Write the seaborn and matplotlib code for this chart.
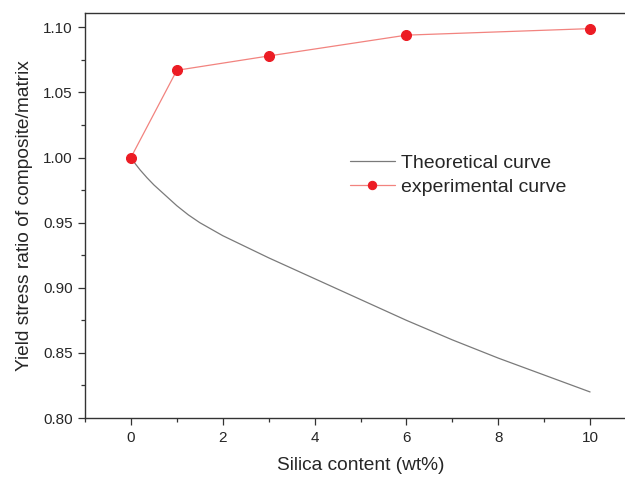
import numpy as np
import pandas as pd
import matplotlib
matplotlib.use("Agg")
import matplotlib.pyplot as plt
from matplotlib.ticker import MultipleLocator
import seaborn as sns

# ---- data ----
theory_x = [0, 0.1, 0.2, 0.35, 0.5, 0.75, 1, 1.25, 1.5, 2, 2.5, 3, 3.5, 4, 5, 6, 7, 8, 9, 10]
theory_y = [1.000, 0.995, 0.9905, 0.9845, 0.979, 0.971, 0.963, 0.956, 0.950, 0.940,
            0.9315, 0.923, 0.915, 0.907, 0.891, 0.875, 0.860, 0.846, 0.833, 0.820]
exp_x = [0, 1, 3, 6, 10]
exp_y = [1.000, 1.067, 1.078, 1.094, 1.099]
x_ticks = [0, 2, 4, 6, 8, 10]
y_ticks = [0.80, 0.85, 0.90, 0.95, 1.00, 1.05, 1.10]

sns.set_style("ticks")
plt.rcParams['font.family'] = ['Liberation Sans', 'DejaVu Sans']
text_color = '#262626'

fig = plt.figure(figsize=(6.25, 4.78), dpi=100)
ax = fig.add_axes([85 / 625, 60 / 478, 551 / 625, 405 / 478])

theory_df = pd.DataFrame({'x': theory_x, 'y': theory_y})
exp_df = pd.DataFrame({'x': exp_x, 'y': exp_y})

sns.lineplot(data=theory_df, x='x', y='y', ax=ax, color='#7a7a7a', linewidth=0.9,
             label='Theoretical curve', zorder=2)
sns.lineplot(data=exp_df, x='x', y='y', ax=ax, color='#f2837f', linewidth=0.9,
             marker='o', markersize=7.2, markerfacecolor='#ec1c24',
             markeredgecolor='#ec1c24', label='experimental curve', zorder=3)

ax.set_xlim(-1, 11)
ax.set_ylim(0.80, 1.111)
ax.set_xticks(x_ticks)
ax.set_yticks(y_ticks)
ax.set_xticklabels([str(v) for v in x_ticks])
ax.set_yticklabels([f"{v:.2f}" for v in y_ticks])
ax.xaxis.set_minor_locator(MultipleLocator(1))
ax.yaxis.set_minor_locator(MultipleLocator(0.025))
ax.tick_params(which='major', direction='out', length=5, width=0.9,
               labelsize=11, colors='#333333', labelcolor=text_color, pad=4)
ax.tick_params(which='minor', direction='out', length=3, width=0.9, colors='#333333')
for s in ax.spines.values():
    s.set_linewidth(1.0)
    s.set_color('#333333')

ax.set_xlabel('Silica content (wt%)', fontsize=13.8, color=text_color, labelpad=9)
ax.set_ylabel('Yield stress ratio of composite/matrix', fontsize=13.8,
              color=text_color, labelpad=7)

leg = ax.legend(loc='center left', bbox_to_anchor=(0.449, 0.60), frameon=False,
                fontsize=14, handlelength=2.3, handletextpad=0.35,
                labelspacing=0.35, labelcolor=text_color)
for lh in leg.get_lines():
    lh.set_markersize(6)

fig.savefig('out.png', dpi=100)
